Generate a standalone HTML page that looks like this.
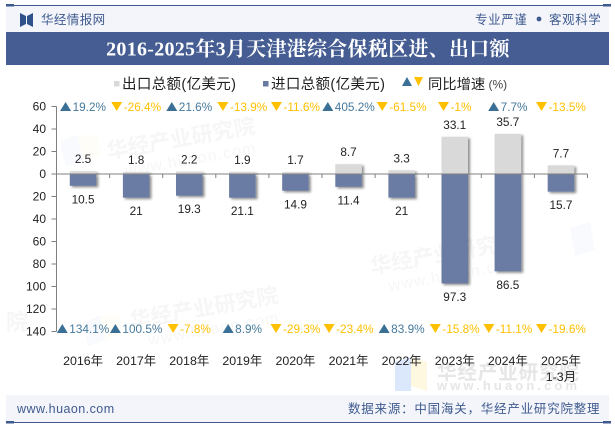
<!DOCTYPE html>
<html lang="zh">
<head>
<meta charset="utf-8">
<title>2016-2025年3月天津港综合保税区进、出口额</title>
<style>
html,body{margin:0;padding:0;background:#fff;width:615px;height:427px;overflow:hidden}
svg{display:block}
text{font-family:"Liberation Sans","Noto Sans CJK SC",sans-serif}
</style>
</head>
<body>
<svg id="chart" xmlns="http://www.w3.org/2000/svg" width="615" height="427" viewBox="0 0 615 427">
  <defs>
    <filter id="barShadow" x="-30%" y="-30%" width="170%" height="170%">
      <feDropShadow dx="2" dy="1.5" stdDeviation="1.4" flood-color="#000" flood-opacity="0.45"/>
    </filter>
  </defs>
  <rect x="0" y="0" width="615" height="427" fill="#fff"/>

  <g>
    <g transform="rotate(-10 180 135)" opacity="0.04">
      <text x="105" y="146" font-size="21.5" font-weight="700" fill="#333">华经产业研究院</text>
      <text x="120" y="166" font-size="16" fill="#333" letter-spacing="1.2">www.huaon.com</text>
    </g>
    <g transform="rotate(-10 200 305)" opacity="0.04">
      <text x="128" y="316" font-size="21.5" font-weight="700" fill="#333">华经产业研究院</text>
      <text x="143" y="336" font-size="16" fill="#333" letter-spacing="1.2">www.huaon.com</text>
    </g>
    <g transform="rotate(-10 440 260)" opacity="0.04">
      <text x="370" y="262" font-size="21.5" font-weight="700" fill="#333">华经产业研究院</text>
      <text x="385" y="282" font-size="16" fill="#333" letter-spacing="1.2">www.huaon.com</text>
    </g>
    <polygon points="60,141 78,135 83,160 66,167" fill="#dce8f8" opacity="0.2"/>
    <polygon points="78,135 98,135 100,155 83,160" fill="#fdf6d8" opacity="0.2"/>
    <polygon points="83,322 100,316 105,340 88,346" fill="#dce8f8" opacity="0.2"/>
    <polygon points="100,316 118,314 122,334 105,340" fill="#fdf6d8" opacity="0.2"/>
    <polygon points="570,228 590,222 595,250 575,256" fill="#dce8f8" opacity="0.2"/>
    <text x="6" y="330" font-size="22" font-weight="700" fill="#333" opacity="0.04">院</text>
    <polygon points="395,362 411,357 411,391 395,391" fill="#dbe8fb"/>
    <polygon points="411,357 427,362 427,391 411,386" fill="#fdf8df"/>
    <text x="437" y="379" font-size="19.5" font-weight="700" fill="#e6e6e6" letter-spacing="0.9">华经产业研究院</text>
    <text x="437" y="390" font-size="13" font-weight="700" fill="#e6e6e6" letter-spacing="3.1">www.huaon.com</text>
  </g>

  <g>
    <rect x="6" y="5" width="603" height="27" fill="#f3f5fa"/>
    <rect x="6" y="5" width="603" height="1" fill="#3f5a8f"/>
    <rect x="6" y="4" width="8" height="2.5" fill="#3f5a8f"/>
    <rect x="603" y="4" width="8" height="2.5" fill="#3f5a8f"/>
    <g fill="#2f5089">
      <polygon points="20,13 26,16 26,24 20,27"/>
      <polygon points="33,13 27,16 27,24 33,27"/>
    </g>
    <text x="41" y="24" font-size="12.5" letter-spacing="0.4" fill="#3f5a8f">华经情报网</text>
    <text x="475" y="24" font-size="12.5" letter-spacing="0.6" fill="#3f5a8f">专业严谨</text>
    <circle cx="539" cy="19" r="2.4" fill="#3f5a8f"/>
    <text x="549" y="24" font-size="12.5" letter-spacing="0.6" fill="#3f5a8f">客观科学</text>
    <rect x="6" y="32" width="603" height="33" fill="#455d92"/>
    <text x="308" y="55.5" text-anchor="middle" font-size="20" font-weight="700" letter-spacing="0.28" fill="#fff" style="font-family:'Liberation Serif','Noto Serif CJK SC',serif">2016-2025年3月天津港综合保税区进、出口额</text>
  </g>

  <g>
    <rect x="114" y="81" width="5.5" height="5.5" fill="#d9d9d9"/>
    <text x="122" y="89" font-size="14.5" letter-spacing="0.35" fill="#222">出口总额(亿美元)</text>
    <rect x="263" y="81" width="5.5" height="5.5" fill="#6a7ba3"/>
    <text x="271" y="89" font-size="14.5" letter-spacing="0.35" fill="#222">进口总额(亿美元)</text>
    <polygon points="402,86 407,77 412,86" fill="#3a7096"/>
    <polygon points="414,77 423,77 418.5,86" fill="#ffc000"/>
    <text x="428" y="89" font-size="14.3" fill="#222">同比增速</text>
    <text x="488.5" y="88.5" font-size="12" fill="#444">(%)</text>
  </g>

  <g id="plot"></g>

  <g>
    <rect x="6" y="395" width="603" height="27" fill="#f3f5fa"/>
    <rect x="6" y="422" width="603" height="1" fill="#3f5a8f"/>
    <rect x="6" y="421" width="8" height="2.5" fill="#3f5a8f"/>
    <rect x="603" y="421" width="8" height="2.5" fill="#3f5a8f"/>
    <text x="17" y="413" font-size="12.5" letter-spacing="0.45" fill="#3f5a8f">www.huaon.com</text>
    <text x="348" y="413" font-size="12.5" letter-spacing="0.78" fill="#3f5a8f">数据来源：中国海关，华经产业研究院整理</text>
  </g>
</svg>
<script>
var categories = ["2016年","2017年","2018年","2019年","2020年","2021年","2022年","2023年","2024年","2025年"];
var exportsValues = [2.5,1.8,2.2,1.9,1.7,8.7,3.3,33.1,35.7,7.7];
var importsValues = [10.5,21,19.3,21.1,14.9,11.4,21,97.3,86.5,15.7];
var exportGrowth = [19.2,-26.4,21.6,-13.9,-11.6,405.2,-61.5,-1,7.7,-13.5];
var importGrowth = [134.1,100.5,-7.8,8.9,-29.3,-23.4,83.9,-15.8,-11.1,-19.6];
var yTicks = [60,40,20,0,-20,-40,-60,-80,-100,-120,-140];

var NS = "http://www.w3.org/2000/svg";
var plot = document.getElementById("plot");
var axisLeft = 56.5, axisRight = 587.5, zeroY = 174, unitPx = 22.5 / 20;
var bandWidth = (axisRight - axisLeft) / categories.length;
var barWidth = 26.5;

function xScale(i) { return axisLeft + bandWidth * (i + 0.5); }
function xEdge(i) { return axisLeft + bandWidth * i; }
function yScale(v) { return zeroY - v * unitPx; }

function make(tag, attrs, text) {
  var el = document.createElementNS(NS, tag);
  for (var k in attrs) { el.setAttribute(k, attrs[k]); }
  if (text !== undefined) { el.textContent = text; }
  plot.appendChild(el);
  return el;
}

categories.forEach(function (c, i) {
  var left = xScale(i) - barWidth / 2;
  var top = yScale(exportsValues[i]);
  var ex = make("rect", {x: left, y: top, width: barWidth, height: zeroY - top, fill: "#d9d9d9", filter: "url(#barShadow)"});
  
  
  var bottom = yScale(-importsValues[i]);
  var im = make("rect", {x: left, y: zeroY, width: barWidth, height: bottom - zeroY, fill: "#6a7ba3", filter: "url(#barShadow)"});
  
  
});

var yLine = make("line", {x1: axisLeft, x2: axisLeft, y1: yScale(60), y2: yScale(-140), stroke: "#808080", "stroke-width": 1});



yTicks.forEach(function (t) {
  var y = yScale(t);
  var tick = make("line", {x1: axisLeft - 5, x2: axisLeft, y1: y, y2: y, stroke: "#808080", "stroke-width": 1});
  
  
  var label = make("text", {x: 46, y: y + 4, "text-anchor": "end", "font-size": 12, fill: "#222"}, String(Math.abs(t)));
  
  
});

var zeroLine = make("line", {x1: axisLeft, x2: axisRight, y1: zeroY, y2: zeroY, stroke: "#808080", "stroke-width": 1});



for (var e = 0; e <= categories.length; e++) {
  var xt = make("line", {x1: xEdge(e), x2: xEdge(e), y1: zeroY, y2: zeroY + 4, stroke: "#808080", "stroke-width": 1});
  
  
}

function growthLabel(value, i, y, name) {
  var up = value >= 0;
  var markW = 11, gap = 1.5, markH = 9;
  var t = make("text", {x: 0, y: y, "font-size": 11.8, fill: up ? "#46799c" : "#ffc000"}, value + "%");
  
  
  var w = t.getComputedTextLength();
  var start = xScale(i) - (markW + gap + w) / 2;
  t.setAttribute("x", start + markW + gap);
  var top = y - markH, bot = y;
  var pts = up
    ? start + "," + bot + " " + (start + markW / 2) + "," + top + " " + (start + markW) + "," + bot
    : start + "," + top + " " + (start + markW) + "," + top + " " + (start + markW / 2) + "," + bot;
  var mark = make("polygon", {points: pts, fill: up ? "#3a7096" : "#ffc000"});
  
  
}

categories.forEach(function (c, i) {
  var exLabel = make("text", {x: xScale(i), y: yScale(exportsValues[i]) - 8, "text-anchor": "middle", "font-size": 11.8, fill: "#222"}, String(exportsValues[i]));
  
  
  var imLabel = make("text", {x: xScale(i), y: yScale(-importsValues[i]) + 17.5, "text-anchor": "middle", "font-size": 11.8, fill: "#222"}, String(importsValues[i]));
  
  
  growthLabel(exportGrowth[i], i, 111, 'export-growth-label');
  growthLabel(importGrowth[i], i, 333, 'import-growth-label');
  var cat = make("text", {x: xScale(i), y: 365, "text-anchor": "middle", "font-size": 12.4, fill: "#222"}, c);
  
  
});

var lastNote = make("text", {x: xScale(categories.length - 1), y: 381, "text-anchor": "middle", "font-size": 12.4, fill: "#222"}, "1-3月");


</script>
</body>
</html>
